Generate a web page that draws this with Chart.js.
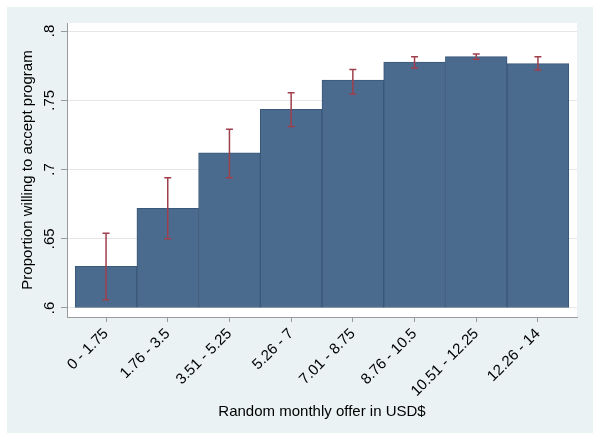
<!DOCTYPE html>
<html>
<head>
<meta charset="utf-8">
<script src="https://cdn.jsdelivr.net/npm/chart.js@4"></script>
<style>
  html, body { margin: 0; padding: 0; background: #fff; }
  canvas { display: block; }
</style>
</head>
<body>
<canvas id="offerChart" width="600" height="440"></canvas>
<script>
// data
const categories = ['0 - 1.75', '1.76 - 3.5', '3.51 - 5.25', '5.26 - 7', '7.01 - 8.75', '8.76 - 10.5', '10.51 - 12.25', '12.26 - 14'];
const proportions = [0.630, 0.672, 0.712, 0.7435, 0.7645, 0.7775, 0.7815, 0.7765];
const ciLow = [0.606, 0.650, 0.694, 0.731, 0.7545, 0.7733, 0.7796, 0.7718];
const ciHigh = [0.654, 0.694, 0.729, 0.7555, 0.7723, 0.7815, 0.7834, 0.7815];
const yTicks = [0.6, 0.65, 0.7, 0.75, 0.8];
const yTickLabels = ['.6', '.65', '.7', '.75', '.8'];

Chart.defaults.font.family = "'Liberation Sans', Arial, sans-serif";
Chart.defaults.color = '#000';

const AXIS_GRAY = '#9a9a9a';

// stata style background: white edge, bluish gray graph region, white plot region
const backdrop = {
  id: 'backdrop',
  beforeDraw(chart) {
    const { ctx, chartArea } = chart;
    ctx.save();
    ctx.fillStyle = '#ffffff';
    ctx.fillRect(0, 0, chart.width, chart.height);
    ctx.fillStyle = '#eaf2f3';
    ctx.fillRect(7, 7, chart.width - 14, chart.height - 14);
    ctx.fillStyle = '#ffffff';
    ctx.fillRect(chartArea.left, chartArea.top, chartArea.right - chartArea.left, chartArea.bottom - chartArea.top);
    ctx.restore();
  }
};

// confidence intervals, drawn with the y scale
const errorBars = {
  id: 'errorBars',
  afterDatasetsDraw(chart) {
    const { ctx } = chart;
    const y = chart.scales.y;
    const bars = chart.getDatasetMeta(0).data;
    ctx.save();
    ctx.strokeStyle = '#a03f4c';
    ctx.lineWidth = 1.5;
    bars.forEach((bar, i) => {
      const top = y.getPixelForValue(ciHigh[i]);
      const bot = y.getPixelForValue(ciLow[i]);
      ctx.beginPath();
      ctx.moveTo(bar.x, top);
      ctx.lineTo(bar.x, bot);
      ctx.moveTo(bar.x - 3.5, top);
      ctx.lineTo(bar.x + 3.5, top);
      ctx.moveTo(bar.x - 3.5, bot);
      ctx.lineTo(bar.x + 3.5, bot);
      ctx.stroke();
    });
    ctx.restore();
  }
};

// vertical y tick labels like stata
const yLabels = {
  id: 'yLabels',
  afterDraw(chart) {
    const { ctx } = chart;
    const y = chart.scales.y;
    ctx.save();
    ctx.fillStyle = '#000';
    ctx.font = "15px 'Liberation Sans', Arial, sans-serif";
    ctx.textAlign = 'center';
    ctx.textBaseline = 'middle';
    yTicks.forEach((t, i) => {
      ctx.save();
      ctx.translate(y.right - 17, y.getPixelForValue(t));
      ctx.rotate(-Math.PI / 2);
      ctx.fillText(yTickLabels[i], 0, 0);
      ctx.restore();
    });
    ctx.restore();
  }
};

const ctx = document.getElementById('offerChart').getContext('2d');

const offerChart = new Chart(ctx, {
  type: 'bar',
  data: {
    datasets: [{
      label: 'Proportion',
      data: proportions.map((v, i) => ({ x: i, y: v })),
      base: 0.6,
      backgroundColor: '#4a6b8e',
      borderColor: '#3a5878',
      borderWidth: 1,
      borderSkipped: false,
      barPercentage: 1,
      categoryPercentage: 1
    }]
  },
  options: {
    responsive: false,
    animation: false,
    devicePixelRatio: 1,
    layout: { padding: { left: 0, right: 23, top: 23, bottom: 0 } },
    plugins: {
      legend: { display: false },
      tooltip: { enabled: false }
    },
    scales: {
      x: {
        type: 'linear',
        min: -0.633,
        max: 7.633,
        offset: false,
        afterBuildTicks: (scale) => { scale.ticks = categories.map((c, i) => ({ value: i })); },
        afterFit: (scale) => { scale.height = 123; },
        ticks: {
          autoSkip: false,
          minRotation: 45,
          maxRotation: 45,
          padding: 3,
          font: { size: 15 },
          callback: (v) => categories[v]
        },
        grid: { drawOnChartArea: false, drawTicks: true, tickLength: 5, tickColor: AXIS_GRAY, offset: false },
        border: { display: true, color: AXIS_GRAY, width: 1 },
        title: {
          display: true,
          text: 'Random monthly offer in USD$',
          font: { size: 15 },
          padding: { top: 0, bottom: 19 }
        }
      },
      y: {
        min: 0.5935,
        max: 0.8058,
        afterBuildTicks: (scale) => { scale.ticks = yTicks.map(v => ({ value: v })); },
        afterFit: (scale) => { scale.width = 67; },
        ticks: { display: false },
        grid: { color: '#e6e6e6', drawTicks: true, tickLength: 6, tickColor: AXIS_GRAY },
        border: { display: true, color: AXIS_GRAY, width: 1 },
        title: {
          display: true,
          text: 'Proportion willing to accept program',
          font: { size: 15 },
          padding: { top: 19, bottom: 0 }
        }
      }
    }
  },
  plugins: [backdrop, errorBars, yLabels]
});
</script>
</body>
</html>
